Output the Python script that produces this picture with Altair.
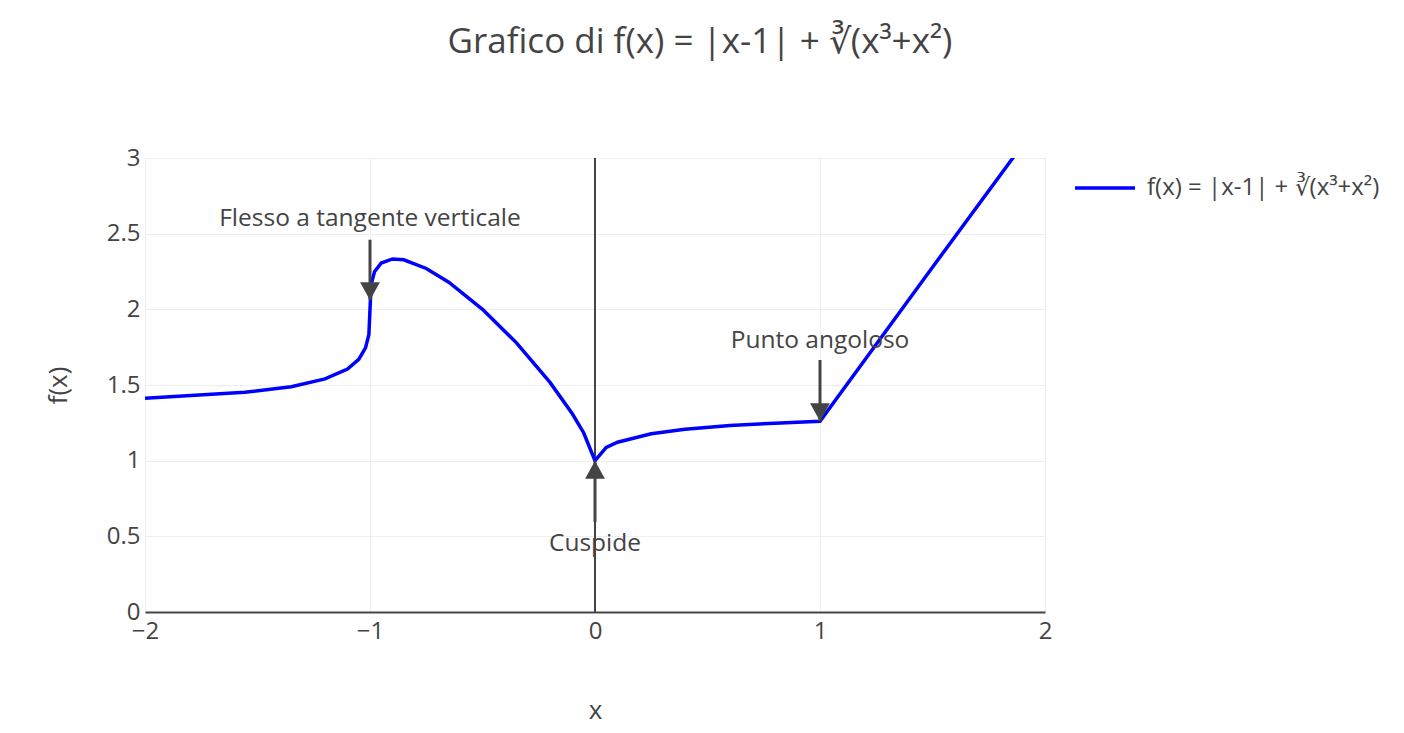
import altair as alt
import pandas as pd

# ---- data ----
x_vals = [-2.0, -1.556, -1.35, -1.2, -1.1, -1.05, -1.02, -1.005, -1.0, -0.995, -0.98,
          -0.95, -0.9, -0.85, -0.75, -0.65, -0.5, -0.35, -0.2, -0.1, -0.05, 0.0,
          0.05, 0.1, 0.25, 0.4, 0.6, 0.8, 1.0, 1.5, 2.0]
y_vals = [1.413, 1.452, 1.489, 1.540, 1.605, 1.669, 1.745, 1.833, 2.0, 2.165, 2.248,
          2.306, 2.333, 2.327, 2.270, 2.179, 2.0, 1.780, 1.517, 1.308, 1.183, 1.0,
          1.088, 1.122, 1.178, 1.207, 1.232, 1.248, 1.260, 2.278, 3.289]

series_name = "f(x) = |x-1| + \u221b(x\u00b3+x\u00b2)"
title_text = "Grafico di f(x) = |x-1| + \u221b(x\u00b3+x\u00b2)"

ann_text = ["Flesso a tangente verticale", "Cuspide", "Punto angoloso"]
ann_x = [-1.0, 0.0, 1.0]
ann_tip = [2.06, 1.0, 1.26]        # where the arrow points
ann_tail = [2.46, 0.595, 1.665]    # arrow start
ann_label_y = [2.60, 0.452, 1.79]  # label centre
ann_dir = ["down", "up", "down"]

x_ticks = [-2, -1, 0, 1, 2]
y_ticks = [0, 0.5, 1, 1.5, 2, 2.5, 3]

TXT = "#444444"
FONT = "Open Sans"

curve = pd.DataFrame({"x": x_vals, "y": y_vals, "serie": series_name})
ann = pd.DataFrame({"text": ann_text, "x": ann_x, "tip": ann_tip,
                    "tail": ann_tail, "ly": ann_label_y, "dir": ann_dir})

xscale = alt.Scale(domain=[-2, 2], nice=False, zero=False)
yscale = alt.Scale(domain=[0, 3], nice=False)

xaxis = alt.Axis(values=x_ticks, format="d", title="x", grid=True, gridColor="#eeeeee",
                 domain=True, domainColor=TXT, domainWidth=2, ticks=False,
                 labelFlush=False, labelOverlap=False, labelBound=False,
                 labelFontSize=24, labelColor=TXT, labelPadding=7, labelFont=FONT,
                 titleFontSize=26, titleColor=TXT, titleFontWeight="normal", titleFont=FONT,
                 titleX=450, titleY=98, titleBaseline="middle", titleAlign="center")
yaxis = alt.Axis(values=y_ticks, format="~g", title="f(x)", grid=True, gridColor="#eeeeee",
                 domain=False, ticks=False, labelFontSize=24, labelColor=TXT, labelFont=FONT,
                 labelFlush=False, labelOverlap=False,
                 labelPadding=5, titleFontSize=26, titleColor=TXT, titleFontWeight="normal",
                 titleFont=FONT, titleX=-87, titleY=227, titleBaseline="middle",
                 titleAlign="center", titleAngle=270)

line = alt.Chart(curve).mark_line(strokeWidth=3.5, clip=True).encode(
    x=alt.X("x:Q", scale=xscale, axis=xaxis),
    y=alt.Y("y:Q", scale=yscale, axis=yaxis),
    color=alt.Color("serie:N", scale=alt.Scale(domain=[series_name], range=["#0000ff"]),
                    legend=alt.Legend(title=None, orient="none", legendX=928, legendY=-2,
                                      symbolType="stroke", symbolSize=3600,
                                      symbolStrokeWidth=3.5, labelFontSize=24,
                                      labelColor=TXT, labelFont=FONT, padding=0,
                                      labelOffset=10, labelLimit=400)),
)

zero_rule = alt.Chart(pd.DataFrame({"x": [0]})).mark_rule(color=TXT, strokeWidth=2).encode(
    x=alt.X("x:Q", scale=xscale)
)

shafts = alt.Chart(ann).mark_rule(color=TXT, strokeWidth=3).encode(
    x=alt.X("x:Q", scale=xscale),
    y=alt.Y("tail:Q", scale=yscale),
    y2="tip:Q",
)

down_path = "M0,0L-0.55,-1L0.55,-1Z"
up_path = "M0,0L-0.55,1L0.55,1Z"
heads = alt.Chart(ann).mark_point(filled=True, size=1296, opacity=1, color=TXT).encode(
    x=alt.X("x:Q", scale=xscale),
    y=alt.Y("tip:Q", scale=yscale),
    shape=alt.Shape("dir:N", scale=alt.Scale(domain=["down", "up"], range=[down_path, up_path]),
                    legend=None),
)

labels = alt.Chart(ann).mark_text(fontSize=24.5, color=TXT, font=FONT, baseline="middle",
                                  align="center").encode(
    x=alt.X("x:Q", scale=xscale),
    y=alt.Y("ly:Q", scale=yscale),
    text="text:N",
)

chart = alt.layer(zero_rule, line, shafts, heads, labels).properties(
    width=900, height=454,
    title=alt.TitleParams(title_text, fontSize=35, color=TXT, font=FONT, fontWeight="normal",
                          anchor="middle", frame="group", dx=105, offset=86),
    autosize=alt.AutoSizeParams(type="none"),
    padding={"left": 137, "top": 150, "right": 345, "bottom": 115},
).configure_view(stroke=None).configure(font=FONT)

chart.save("out.html", embed_options={"renderer": "svg", "actions": False})
